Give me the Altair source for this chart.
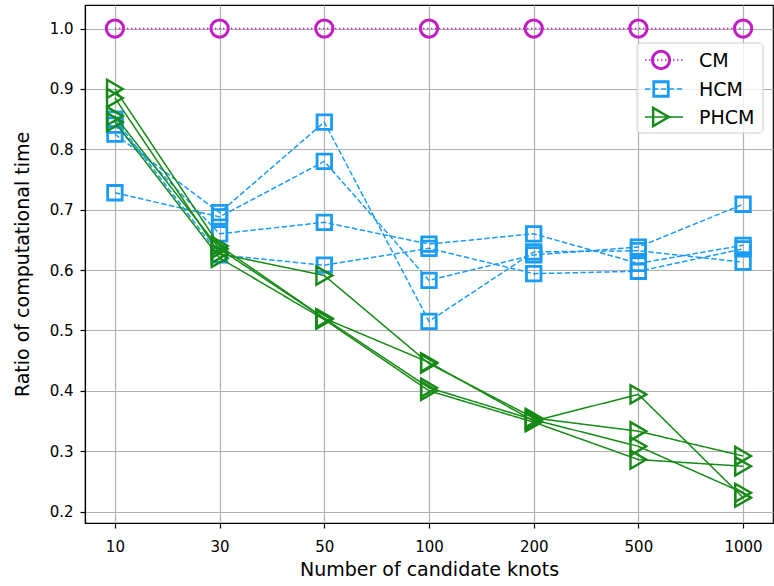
import altair as alt
import pandas as pd

# x categories (number of candidate knots)
knots = ["10", "30", "50", "100", "200", "500", "1000"]

# ratio of computational time, one list per run
cm_runs = [
    [1.0, 1.0, 1.0, 1.0, 1.0, 1.0, 1.0],
]
hcm_runs = [
    [0.825, 0.695, 0.845, 0.515, 0.630, 0.632, 0.613],
    [0.728, 0.688, 0.780, 0.583, 0.625, 0.638, 0.709],
    [0.840, 0.660, 0.679, 0.643, 0.660, 0.611, 0.641],
    [0.850, 0.625, 0.608, 0.636, 0.594, 0.598, 0.635],
]
phcm_runs = [
    [0.900, 0.640, 0.520, 0.447, 0.350, 0.394, 0.223],
    [0.885, 0.627, 0.591, 0.445, 0.355, 0.333, 0.292],
    [0.855, 0.635, 0.520, 0.405, 0.352, 0.308, 0.231],
    [0.845, 0.620, 0.518, 0.400, 0.348, 0.286, 0.275],
]
methods = ["CM", "HCM", "PHCM"]
y_ticks = [0.2, 0.3, 0.4, 0.5, 0.6, 0.7, 0.8, 0.9, 1.0]

FONT = "DejaVu Sans"
W, H = 688, 518

styles = {
    "CM": dict(color="#c21fc2", dash=[1.5, 2.5], shape="circle", size=300, sw=3.0),
    "HCM": dict(color="#1a9cf5", dash=[5.5, 2.4], shape="square", size=210, sw=2.8),
    "PHCM": dict(color="#168a16", dash=[1, 0], shape="triangle-right", size=330, sw=2.4),
}


def long_frame(runs, method):
    rows = []
    for r, vals in enumerate(runs):
        for i, (k, v) in enumerate(zip(knots, vals)):
            rows.append({"method": method, "run": f"{method}{r}", "knots": k, "idx": i, "ratio": v})
    return pd.DataFrame(rows)


x_enc = alt.X(
    "knots:O",
    sort=knots,
    scale=alt.Scale(type="point", padding=0.2857),
    axis=alt.Axis(title="Number of candidate knots", labelAngle=0),
)
y_enc = alt.Y(
    "ratio:Q",
    scale=alt.Scale(domain=[0.181, 1.039], nice=False, zero=False),
    axis=alt.Axis(title="Ratio of computational time", values=y_ticks, format=".1f"),
)

layers = []
for method, runs in zip(methods, [cm_runs, hcm_runs, phcm_runs]):
    st = styles[method]
    base = alt.Chart(long_frame(runs, method))
    line = base.mark_line(
        color=st["color"], strokeWidth=1.5, strokeDash=st["dash"]
    ).encode(x=x_enc, y=y_enc, detail="run:N", order=alt.Order("idx:Q"))
    pts = base.mark_point(
        shape=st["shape"], size=st["size"], filled=False, color=st["color"],
        strokeWidth=st["sw"], opacity=1,
    ).encode(x=x_enc, y=y_enc, detail="run:N")
    layers += [line, pts]

# legend box in the upper right of the plot area
box = alt.Chart(pd.DataFrame({"k": [0]})).mark_rect(
    fill="white", fillOpacity=0.8, stroke="#cccccc", strokeWidth=1, cornerRadius=4
).encode(x=alt.value(552), x2=alt.value(678), y=alt.value(38), y2=alt.value(128))
layers.append(box)

entry_y = [55, 84, 112]
for method, yy in zip(methods, entry_y):
    st = styles[method]
    one = alt.Chart(pd.DataFrame({"label": [method]}))
    layers.append(
        one.mark_rule(color=st["color"], strokeWidth=1.5, strokeDash=st["dash"]).encode(
            x=alt.value(560), x2=alt.value(598), y=alt.value(yy)
        )
    )
    layers.append(
        one.mark_point(
            shape=st["shape"], size=st["size"], filled=False, color=st["color"],
            strokeWidth=st["sw"], opacity=1,
        ).encode(x=alt.value(576), y=alt.value(yy))
    )
    layers.append(
        one.mark_text(align="left", baseline="middle", font=FONT, fontSize=19, color="black").encode(
            x=alt.value(614), y=alt.value(yy + 1), text="label:N"
        )
    )

chart = (
    alt.layer(*layers)
    .properties(
        width=W,
        height=H,
        autosize=alt.AutoSizeParams(type="none"),
        padding={"left": 85, "top": 5, "right": 1, "bottom": 63},
        background="white",
    )
    .configure_view(stroke="black", strokeWidth=1.2)
    .configure_axis(
        grid=True,
        gridColor="#b0b0b0",
        gridWidth=1.2,
        domainColor="black",
        domainWidth=1.2,
        tickColor="black",
        tickSize=5,
        tickWidth=1.2,
        labelFont=FONT,
        labelFontSize=15,
        labelColor="black",
        titleFont=FONT,
        titleFontSize=19,
        titleFontWeight="normal",
        titleColor="black",
    )
    .configure_axisX(labelPadding=11, titlePadding=6)
    .configure_axisY(labelPadding=7, titlePadding=17)
)

chart.save("out.html", embed_options={"renderer": "svg", "actions": False})
